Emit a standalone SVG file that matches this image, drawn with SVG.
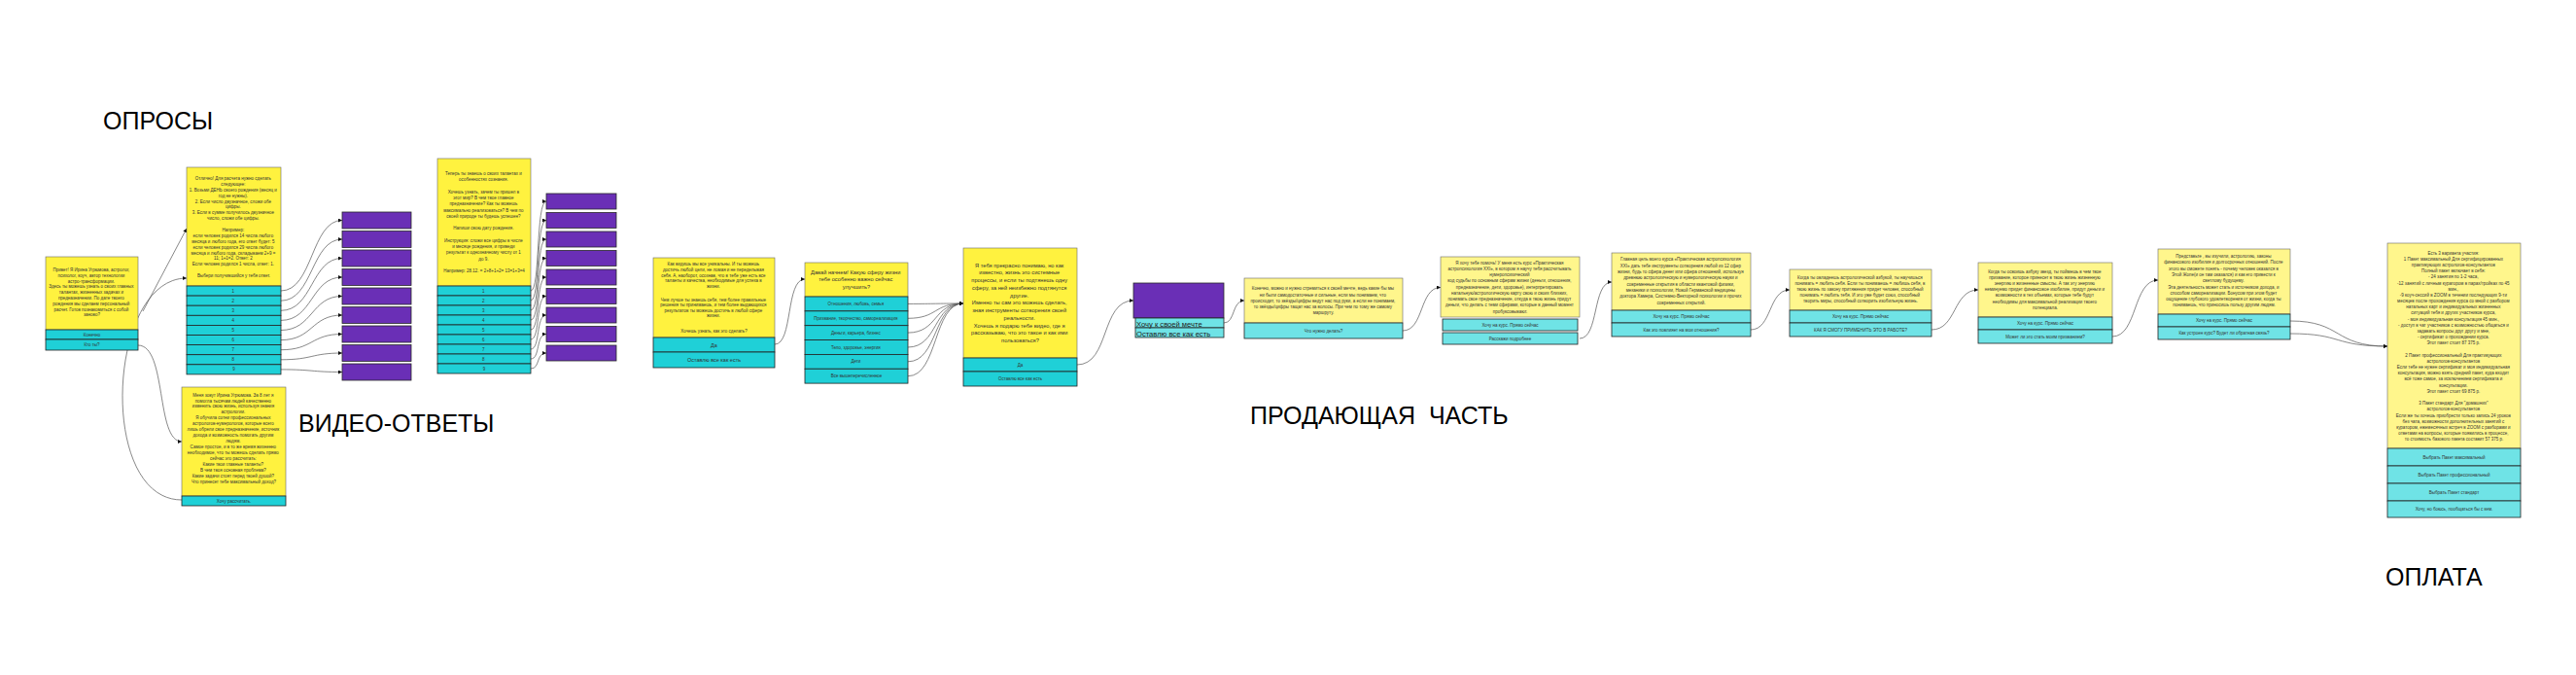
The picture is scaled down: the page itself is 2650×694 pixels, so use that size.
<svg xmlns="http://www.w3.org/2000/svg" width="2650" height="694" viewBox="0 0 2650 694">
<style>
.bg{fill:#ffffff}
.y1{fill:#fff23f;stroke:#6a6a6a;stroke-width:0.6}
.c1{fill:#1fd0d7;stroke:#222;stroke-width:0.8}
.y2{fill:#fff68c;stroke:#6a6a6a;stroke-width:0.6}
.c2{fill:#6fe3e6;stroke:#222;stroke-width:0.8}
.pu{fill:#6a2fb6;stroke:#2a2a2a;stroke-width:0.8}
.t{font-family:"Liberation Sans",Arial,sans-serif;font-size:4.5px;fill:#333;text-anchor:middle}
.t6{font-size:5.7px}
.t5{font-size:5.5px}
.tl{font-family:"Liberation Sans",Arial,sans-serif;font-size:7.6px;fill:#222}
.big{font-family:"Liberation Sans",Arial,sans-serif;font-size:25px;fill:#000}
.e{fill:none;stroke:#555;stroke-width:0.7}
</style>
<defs>
<marker id="ar" viewBox="0 0 6 6" refX="6" refY="3" markerWidth="4" markerHeight="4" markerUnits="userSpaceOnUse" orient="auto">
<path d="M0,0 L6,3 L0,6 Z" fill="#111"/>
</marker>
</defs>
<rect class="bg" x="0" y="0" width="2650" height="694"/>

<g id="labels">
<text class="big" x="106" y="133">ОПРОСЫ</text>
<text class="big" x="307" y="444">ВИДЕО-ОТВЕТЫ</text>
<text class="big" x="1286" y="436" xml:space="preserve">ПРОДАЮЩАЯ  ЧАСТЬ</text>
<text class="big" x="2454" y="602">ОПЛАТА</text>
</g>

<g id="connectors">
<path class="e" marker-end="url(#ar)" d="M147,320 L192,235"/>
<path class="e" marker-end="url(#ar)" d="M187,514 C100,514 110,286 192,286"/>
<path class="e" marker-end="url(#ar)" d="M142,355 C172,355 160,454 187,454"/>
<path class="e" marker-end="url(#ar)" d="M289,299 C322,299 320,226.5 352,226.5"/>
<path class="e" marker-end="url(#ar)" d="M289,309.2 C322,309.2 320,246 352,246"/>
<path class="e" marker-end="url(#ar)" d="M289,319.3 C322,319.3 320,265.5 352,265.5"/>
<path class="e" marker-end="url(#ar)" d="M289,329.4 C322,329.4 320,285 352,285"/>
<path class="e" marker-end="url(#ar)" d="M289,339.5 C322,339.5 320,304.5 352,304.5"/>
<path class="e" marker-end="url(#ar)" d="M289,349.6 C322,349.6 320,324 352,324"/>
<path class="e" marker-end="url(#ar)" d="M289,359.7 C322,359.7 320,343.5 352,343.5"/>
<path class="e" marker-end="url(#ar)" d="M289,369.8 C322,369.8 320,363 352,363"/>
<path class="e" marker-end="url(#ar)" d="M289,379.9 C322,379.9 320,382.5 352,382.5"/>
<path class="e" marker-end="url(#ar)" d="M546,299 C556,299 551,207 562,207"/>
<path class="e" marker-end="url(#ar)" d="M546,309 C556,309 551,226.5 562,226.5"/>
<path class="e" marker-end="url(#ar)" d="M546,319 C556,319 551,246 562,246"/>
<path class="e" marker-end="url(#ar)" d="M546,329 C556,329 551,265.5 562,265.5"/>
<path class="e" marker-end="url(#ar)" d="M546,339 C556,339 551,285 562,285"/>
<path class="e" marker-end="url(#ar)" d="M546,349 C556,349 551,304.5 562,304.5"/>
<path class="e" marker-end="url(#ar)" d="M546,359 C556,359 551,324 562,324"/>
<path class="e" marker-end="url(#ar)" d="M546,369 C556,369 551,343.5 562,343.5"/>
<path class="e" marker-end="url(#ar)" d="M546,379 C556,379 551,363 562,363"/>
<path class="e" marker-end="url(#ar)" d="M797,354 C816,354 808,287 828,287"/>
<path class="e" marker-end="url(#ar)" d="M934,312.4 C965,312.4 960,312 991,312"/>
<path class="e" marker-end="url(#ar)" d="M934,327.3 C965,327.3 960,312 991,312"/>
<path class="e" marker-end="url(#ar)" d="M934,342.1 C965,342.1 960,312 991,312"/>
<path class="e" marker-end="url(#ar)" d="M934,357 C965,357 960,312 991,312"/>
<path class="e" marker-end="url(#ar)" d="M934,371.8 C965,371.8 960,312 991,312"/>
<path class="e" marker-end="url(#ar)" d="M934,386.7 C965,386.7 960,312 991,312"/>
<path class="e" marker-end="url(#ar)" d="M1108,375 C1142,375 1132,309 1166,309"/>
<path class="e" marker-end="url(#ar)" d="M1259,332 C1271,332 1267,309 1280,309"/>
<path class="e" marker-end="url(#ar)" d="M1443,340 C1465,340 1460,295.5 1482,295.5"/>
<path class="e" marker-end="url(#ar)" d="M1625,348 C1645,348 1638,290 1658,290"/>
<path class="e" marker-end="url(#ar)" d="M1801,339 C1823,339 1819,298 1841,298"/>
<path class="e" marker-end="url(#ar)" d="M1987,339 C2013,339 2009,298 2035,298"/>
<path class="e" marker-end="url(#ar)" d="M2173,346 C2199,346 2194,288 2220,288"/>
<path class="e" marker-end="url(#ar)" d="M2356,330 C2410,330 2400,356 2456,356"/>
<path class="e" marker-end="url(#ar)" d="M2356,343 C2410,343 2400,356 2456,356"/>
</g>

<g id="n-start">
<rect class="y1" x="47" y="264" width="95" height="75"/>
<rect class="c1" x="47" y="339" width="95" height="10"/>
<rect class="c1" x="47" y="349" width="95" height="11"/>
<text class="t">
<tspan x="94.5" y="279">Привет! Я Ирина Угрюмова, астролог,</tspan>
<tspan x="94.5" y="284.8">психолог, коуч, автор технологии</tspan>
<tspan x="94.5" y="290.6">астро-трансформации.</tspan>
<tspan x="94.5" y="296.4">Здесь ты можешь узнать о своих главных</tspan>
<tspan x="94.5" y="302.2">талантах, жизненных задачах и</tspan>
<tspan x="94.5" y="308">предназначении. По дате твоего</tspan>
<tspan x="94.5" y="313.8">рождения мы сделаем персональный</tspan>
<tspan x="94.5" y="319.6">расчет. Готов познакомиться с собой</tspan>
<tspan x="94.5" y="325.4">заново?</tspan>
</text>
<text class="t" x="94.5" y="345.6">Конечно</text>
<text class="t" x="94.5" y="356">Кто ты?</text>
</g>

<g id="n-calc">
<rect class="y1" x="192" y="172" width="97" height="122"/>
<rect class="c1" x="192" y="294" width="97" height="10.1"/>
<rect class="c1" x="192" y="304.1" width="97" height="10.1"/>
<rect class="c1" x="192" y="314.2" width="97" height="10.1"/>
<rect class="c1" x="192" y="324.3" width="97" height="10.1"/>
<rect class="c1" x="192" y="334.4" width="97" height="10.1"/>
<rect class="c1" x="192" y="344.5" width="97" height="10.1"/>
<rect class="c1" x="192" y="354.6" width="97" height="10.1"/>
<rect class="c1" x="192" y="364.7" width="97" height="10.1"/>
<rect class="c1" x="192" y="374.8" width="97" height="10.1"/>
<text class="t">
<tspan x="240.5" y="185">Отлично! Для расчета нужно сделать</tspan>
<tspan x="240.5" y="190.9">следующее:</tspan>
<tspan x="240.5" y="196.8">1. Возьми ДЕНЬ своего рождения (месяц и</tspan>
<tspan x="240.5" y="202.6">год не нужны).</tspan>
<tspan x="240.5" y="208.5">2. Если число двузначное, сложи обе</tspan>
<tspan x="240.5" y="214.4">цифры.</tspan>
<tspan x="240.5" y="220.3">3. Если в сумме получилось двузначное</tspan>
<tspan x="240.5" y="226.2">число, сложи обе цифры.</tspan>
<tspan x="240.5" y="238">Например:</tspan>
<tspan x="240.5" y="243.9">если человек родился 14 числа любого</tspan>
<tspan x="240.5" y="249.8">месяца и любого года, его ответ будет: 5</tspan>
<tspan x="240.5" y="255.6">если человек родился 29 числа любого</tspan>
<tspan x="240.5" y="261.5">месяца и любого года, складываем 2+9 =</tspan>
<tspan x="240.5" y="267.4">11; 1+1=2. Ответ: 2</tspan>
<tspan x="240.5" y="273.3">Если человек родился 1 числа, ответ: 1.</tspan>
<tspan x="240.5" y="285">Выбери получившийся у тебя ответ.</tspan>
</text>
<text class="t">
<tspan x="240.5" y="300.6">1</tspan>
<tspan x="240.5" y="310.7">2</tspan>
<tspan x="240.5" y="320.8">3</tspan>
<tspan x="240.5" y="330.9">4</tspan>
<tspan x="240.5" y="341">5</tspan>
<tspan x="240.5" y="351.1">6</tspan>
<tspan x="240.5" y="361.2">7</tspan>
<tspan x="240.5" y="371.3">8</tspan>
<tspan x="240.5" y="381.4">9</tspan>
</text>
</g>

<g id="n-about">
<rect class="y1" x="187" y="398" width="107" height="112"/>
<rect class="c1" x="187" y="510" width="107" height="10"/>
<text class="t">
<tspan x="240.5" y="407.6">Меня зовут Ирина Угрюмова. За 8 лет я</tspan>
<tspan x="240.5" y="413.5">помогла тысячам людей качественно</tspan>
<tspan x="240.5" y="419.4">изменить свою жизнь, используя знания</tspan>
<tspan x="240.5" y="425.4">астрологии.</tspan>
<tspan x="240.5" y="431.3">Я обучила сотни профессиональных</tspan>
<tspan x="240.5" y="437.2">астрологов-нумерологов, которые всего</tspan>
<tspan x="240.5" y="443.2">лишь обрели свое предназначение, источник</tspan>
<tspan x="240.5" y="449.1">дохода и возможность помогать другим</tspan>
<tspan x="240.5" y="455">людям.</tspan>
<tspan x="240.5" y="461">Самое простое, и в то же время жизненно</tspan>
<tspan x="240.5" y="466.9">необходимое, что ты можешь сделать прямо</tspan>
<tspan x="240.5" y="472.8">сейчас это рассчитать:</tspan>
<tspan x="240.5" y="478.8">Какие твои главные таланты?</tspan>
<tspan x="240.5" y="484.7">В чем твоя основная проблема?</tspan>
<tspan x="240.5" y="490.6">Какие задачи стоят перед твоей душой?</tspan>
<tspan x="240.5" y="496.6">Что принесет тебе максимальный доход?</tspan>
</text>
<text class="t" x="240.5" y="516.6">Хочу рассчитать.</text>
</g>

<g id="n-p1-1"><rect class="pu" x="352" y="218" width="71" height="17"/></g>
<g id="n-p1-2"><rect class="pu" x="352" y="237.5" width="71" height="17"/></g>
<g id="n-p1-3"><rect class="pu" x="352" y="257" width="71" height="17"/></g>
<g id="n-p1-4"><rect class="pu" x="352" y="276.5" width="71" height="17"/></g>
<g id="n-p1-5"><rect class="pu" x="352" y="296" width="71" height="17"/></g>
<g id="n-p1-6"><rect class="pu" x="352" y="315.5" width="71" height="17"/></g>
<g id="n-p1-7"><rect class="pu" x="352" y="335" width="71" height="17"/></g>
<g id="n-p1-8"><rect class="pu" x="352" y="354.5" width="71" height="17"/></g>
<g id="n-p1-9"><rect class="pu" x="352" y="374" width="71" height="17"/></g>

<g id="n-video">
<rect class="y1" x="450" y="163" width="96" height="131"/>
<rect class="c1" x="450" y="294" width="96" height="10"/>
<rect class="c1" x="450" y="304" width="96" height="10"/>
<rect class="c1" x="450" y="314" width="96" height="10"/>
<rect class="c1" x="450" y="324" width="96" height="10"/>
<rect class="c1" x="450" y="334" width="96" height="10"/>
<rect class="c1" x="450" y="344" width="96" height="10"/>
<rect class="c1" x="450" y="354" width="96" height="10"/>
<rect class="c1" x="450" y="364" width="96" height="10"/>
<rect class="c1" x="450" y="374" width="96" height="10"/>
<text class="t">
<tspan x="498" y="180">Теперь ты знаешь о своих талантах и</tspan>
<tspan x="498" y="186.2">особенностях сознания.</tspan>
<tspan x="498" y="198.7">Хочешь узнать, зачем ты пришел в</tspan>
<tspan x="498" y="205">этот мир? В чем твое главное</tspan>
<tspan x="498" y="211.2">предназначение? Как ты можешь</tspan>
<tspan x="498" y="217.5">максимально реализоваться? В чем по</tspan>
<tspan x="498" y="223.7">своей природе ты будешь успешен?</tspan>
<tspan x="498" y="236.2">Напиши свою дату рождения.</tspan>
<tspan x="498" y="248.7">Инструкция: сложи все цифры в числе</tspan>
<tspan x="498" y="255">и месяце рождения, и приведи</tspan>
<tspan x="498" y="261.2">результат к однозначному числу от 1</tspan>
<tspan x="498" y="267.5">до 9.</tspan>
<tspan x="498" y="280">Например: 28.12. = 2+8+1+2= 13=1+3=4</tspan>
</text>
<text class="t">
<tspan x="498" y="300.6">1</tspan>
<tspan x="498" y="310.6">2</tspan>
<tspan x="498" y="320.6">3</tspan>
<tspan x="498" y="330.6">4</tspan>
<tspan x="498" y="340.6">5</tspan>
<tspan x="498" y="350.6">6</tspan>
<tspan x="498" y="360.6">7</tspan>
<tspan x="498" y="370.6">8</tspan>
<tspan x="498" y="380.6">9</tspan>
</text>
</g>

<g id="n-p2-1"><rect class="pu" x="562" y="199" width="72" height="16"/></g>
<g id="n-p2-2"><rect class="pu" x="562" y="218.5" width="72" height="16"/></g>
<g id="n-p2-3"><rect class="pu" x="562" y="238" width="72" height="16"/></g>
<g id="n-p2-4"><rect class="pu" x="562" y="257.5" width="72" height="16"/></g>
<g id="n-p2-5"><rect class="pu" x="562" y="277" width="72" height="16"/></g>
<g id="n-p2-6"><rect class="pu" x="562" y="296.5" width="72" height="16"/></g>
<g id="n-p2-7"><rect class="pu" x="562" y="316" width="72" height="16"/></g>
<g id="n-p2-8"><rect class="pu" x="562" y="335.5" width="72" height="16"/></g>
<g id="n-p2-9"><rect class="pu" x="562" y="355" width="72" height="16"/></g>

<g id="n-unique">
<rect class="y1" x="672" y="265" width="125" height="82"/>
<rect class="c1" x="672" y="347" width="125" height="15"/>
<rect class="c1" x="672" y="362" width="125" height="16"/>
<text class="t">
<tspan x="734.5" y="273.3">Как видишь мы все уникальны. И ты можешь</tspan>
<tspan x="734.5" y="279">достичь любой цели, не ломая и не переделывая</tspan>
<tspan x="734.5" y="284.6">себя. А, наоборот, осознав, что в тебе уже есть все</tspan>
<tspan x="734.5" y="290.2">таланты и качества, необходимые для успеха в</tspan>
<tspan x="734.5" y="295.8">жизни.</tspan>
<tspan x="734.5" y="309.6">Чем лучше ты знаешь себя, тем более правильные</tspan>
<tspan x="734.5" y="315.2">решения ты принимаешь, и тем более выдающихся</tspan>
<tspan x="734.5" y="320.8">результатов ты можешь достичь в любой сфере</tspan>
<tspan x="734.5" y="326.4">жизни.</tspan>
<tspan x="734.5" y="342">Хочешь узнать, как это сделать?</tspan>
</text>
<text class="t t5" x="734.5" y="356.5">Да</text>
<text class="t t5" x="734.5" y="372">Оставлю все как есть</text>
</g>

<g id="n-sphere">
<rect class="y1" x="828" y="270" width="106" height="35"/>
<rect class="c1" x="828" y="305" width="106" height="14.85"/>
<rect class="c1" x="828" y="319.85" width="106" height="14.85"/>
<rect class="c1" x="828" y="334.7" width="106" height="14.85"/>
<rect class="c1" x="828" y="349.55" width="106" height="14.85"/>
<rect class="c1" x="828" y="364.4" width="106" height="14.85"/>
<rect class="c1" x="828" y="379.25" width="106" height="14.85"/>
<text class="t t6">
<tspan x="881" y="282.2">Давай начнем! Какую сферу жизни</tspan>
<tspan x="881" y="289.4">тебе особенно важно сейчас</tspan>
<tspan x="881" y="296.6">улучшить?</tspan>
</text>
<text class="t">
<tspan x="881" y="314">Отношения, любовь, семья</tspan>
<tspan x="881" y="328.9">Призвание, творчество, самореализация</tspan>
<tspan x="881" y="343.7">Деньги, карьера, бизнес</tspan>
<tspan x="881" y="358.6">Тело, здоровье, энергия</tspan>
<tspan x="881" y="373.4">Дети</tspan>
<tspan x="881" y="388.3">Все вышеперечисленное</tspan>
</text>
</g>

<g id="n-understand">
<rect class="y1" x="991" y="255" width="117" height="113"/>
<rect class="c1" x="991" y="368" width="117" height="14"/>
<rect class="c1" x="991" y="382" width="117" height="15"/>
<text class="t t6">
<tspan x="1049.5" y="274.7">Я тебя прекрасно понимаю, но как</tspan>
<tspan x="1049.5" y="282.4">известно, жизнь это системные</tspan>
<tspan x="1049.5" y="290.2">процессы, и если ты подтянешь одну</tspan>
<tspan x="1049.5" y="297.9">сферу, за ней неизбежно подтянутся</tspan>
<tspan x="1049.5" y="305.6">другие.</tspan>
<tspan x="1049.5" y="313.4">Именно ты сам это можешь сделать,</tspan>
<tspan x="1049.5" y="321.1">зная инструменты сотворения своей</tspan>
<tspan x="1049.5" y="328.8">реальности.</tspan>
<tspan x="1049.5" y="336.5">Хочешь я подарю тебе видео, где я</tspan>
<tspan x="1049.5" y="344.3">рассказываю, что это такое и как ими</tspan>
<tspan x="1049.5" y="352">пользоваться?</tspan>
</text>
<text class="t" x="1049.5" y="376.6">Да</text>
<text class="t" x="1049.5" y="391.1">Оставлю все как есть</text>
</g>

<g id="n-dream">
<rect class="pu" x="1166" y="291" width="93" height="36"/>
<rect class="c2" x="1168" y="327" width="91" height="10"/>
<rect class="c2" x="1168" y="337" width="91" height="10"/>
<text class="tl" x="1169" y="335.5">Хочу к своей мечте</text>
<text class="tl" x="1169" y="345.5">Оставлю все как есть</text>
</g>

<g id="n-of-course">
<rect class="y2" x="1280" y="286" width="163" height="46"/>
<rect class="c2" x="1280" y="332" width="163" height="16"/>
<text class="t">
<tspan x="1361.5" y="298.3">Конечно, можно и нужно стремиться к своей мечте, ведь какие бы мы</tspan>
<tspan x="1361.5" y="304.5">ни были самодостаточные и сильные, если мы понимаем, что</tspan>
<tspan x="1361.5" y="310.8">происходит, то звёзды/цифры ведут нас под руки, а если не понимаем,</tspan>
<tspan x="1361.5" y="317">то звёзды/цифры тащат нас за волосы. При чем по тому же самому</tspan>
<tspan x="1361.5" y="323.3">маршруту.</tspan>
</text>
<text class="t" x="1361.5" y="341.6">Что нужно делать?</text>
</g>

<g id="n-help">
<rect class="y2" x="1482" y="264" width="143" height="62"/>
<rect class="c2" x="1484" y="328" width="139" height="12"/>
<rect class="c2" x="1484" y="342" width="139" height="12"/>
<text class="t">
<tspan x="1553.5" y="271.6">Я хочу тебе помочь! У меня есть курс «Практическая</tspan>
<tspan x="1553.5" y="277.9">астропсихология XXI», в котором я научу тебя рассчитывать</tspan>
<tspan x="1553.5" y="284.1">нумеропсихический</tspan>
<tspan x="1553.5" y="290.4">код судьбы по основным сферам жизни (деньги, отношения,</tspan>
<tspan x="1553.5" y="296.6">предназначение, дети, здоровье), интерпретировать</tspan>
<tspan x="1553.5" y="302.9">натальную/астрологическую карту свою и своих близких,</tspan>
<tspan x="1553.5" y="309.1">понимать свое предназначение, откуда в твою жизнь придут</tspan>
<tspan x="1553.5" y="315.4">деньги, что делать с теми сферами, которые в данный момент</tspan>
<tspan x="1553.5" y="321.6">пробуксовывают.</tspan>
</text>
<text class="t" x="1553.5" y="335.6">Хочу на курс. Прямо сейчас</text>
<text class="t" x="1553.5" y="349.6">Расскажи подробнее</text>
</g>

<g id="n-goal">
<rect class="y2" x="1658" y="260" width="143" height="59"/>
<rect class="c2" x="1658" y="319" width="143" height="13"/>
<rect class="c2" x="1658" y="332" width="143" height="14"/>
<text class="t">
<tspan x="1729.5" y="268.3">Главная цель моего курса «Практическая астропсихология</tspan>
<tspan x="1729.5" y="274.6">XXI» дать тебе инструменты сотворения любой из 12 сфер</tspan>
<tspan x="1729.5" y="281">жизни, будь то сфера денег или сфера отношений, используя</tspan>
<tspan x="1729.5" y="287.3">древнюю астрологическую и нумерологическую науки и</tspan>
<tspan x="1729.5" y="293.6">современные открытия в области квантовой физики,</tspan>
<tspan x="1729.5" y="300">механики и психологии, Новой Германской медицины</tspan>
<tspan x="1729.5" y="306.3">доктора Хамера, Системно-Векторной психологии и прочих</tspan>
<tspan x="1729.5" y="312.6">современных открытий.</tspan>
</text>
<text class="t" x="1729.5" y="327.1">Хочу на курс. Прямо сейчас</text>
<text class="t" x="1729.5" y="340.6">Как это повлияет на мои отношения?</text>
</g>

<g id="n-relations">
<rect class="y2" x="1841" y="277" width="146" height="42"/>
<rect class="c2" x="1841" y="319" width="146" height="13"/>
<rect class="c2" x="1841" y="332" width="146" height="14"/>
<text class="t">
<tspan x="1914" y="287.3">Когда ты овладеешь астрологической азбукой, ты научишься</tspan>
<tspan x="1914" y="293.3">понимать = любить себя. Если ты понимаешь = любишь себя, в</tspan>
<tspan x="1914" y="299.3">твою жизнь по закону притяжения придет человек, способный</tspan>
<tspan x="1914" y="305.3">понимать = любить тебя. И это уже будет союз, способный</tspan>
<tspan x="1914" y="311.3">творить миры, способный сотворить изобильную жизнь.</tspan>
</text>
<text class="t" x="1914" y="327.1">Хочу на курс. Прямо сейчас</text>
<text class="t" x="1914" y="340.6">КАК Я СМОГУ ПРИМЕНИТЬ ЭТО В РАБОТЕ?</text>
</g>

<g id="n-calling">
<rect class="y2" x="2035" y="270" width="138" height="56"/>
<rect class="c2" x="2035" y="326" width="138" height="13"/>
<rect class="c2" x="2035" y="339" width="138" height="14"/>
<text class="t">
<tspan x="2104" y="281">Когда ты освоишь азбуку звезд, ты поймешь в чем твое</tspan>
<tspan x="2104" y="287.1">призвание, которое принесет в твою жизнь жизненную</tspan>
<tspan x="2104" y="293.2">энергию и жизненные смыслы. А так эту энергию</tspan>
<tspan x="2104" y="299.3">неминуемо придет финансовое изобилие, придут деньги и</tspan>
<tspan x="2104" y="305.4">возможности в тех объемах, которые тебе будут</tspan>
<tspan x="2104" y="311.5">необходимы для максимальной реализации твоего</tspan>
<tspan x="2104" y="317.6">потенциала.</tspan>
</text>
<text class="t" x="2104" y="334.1">Хочу на курс. Прямо сейчас</text>
<text class="t" x="2104" y="347.6">Может ли это стать моим призванием?</text>
</g>

<g id="n-imagine">
<rect class="y2" x="2220" y="256" width="136" height="67"/>
<rect class="c2" x="2220" y="323" width="136" height="13"/>
<rect class="c2" x="2220" y="336" width="136" height="13"/>
<text class="t">
<tspan x="2288" y="265">Представьте , вы изучили, астрологию, законы</tspan>
<tspan x="2288" y="271.3">финансового изобилия и долгосрочных отношений. После</tspan>
<tspan x="2288" y="277.6">этого вы сможете понять - почему человек оказался в</tspan>
<tspan x="2288" y="283.9">Этой Жопе(и он там оказался) и как его привести к</tspan>
<tspan x="2288" y="290.2">светлому будущему.</tspan>
<tspan x="2288" y="296.5">Эта деятельность может стать и источником дохода, и</tspan>
<tspan x="2288" y="302.8">способом самореализации. Бонусом при этом будет</tspan>
<tspan x="2288" y="309.1">ощущение глубокого удовлетворения от жизни, когда ты</tspan>
<tspan x="2288" y="315.4">понимаешь, что приносишь пользу другим людям.</tspan>
</text>
<text class="t" x="2288" y="331.1">Хочу на курс. Прямо сейчас</text>
<text class="t" x="2288" y="344.1">Как устроен курс? Будет ли обратная связь?</text>
</g>

<g id="n-payment">
<rect class="y2" x="2456" y="250" width="137" height="211"/>
<rect class="c2" x="2456" y="461" width="137" height="18"/>
<rect class="c2" x="2456" y="479" width="137" height="18"/>
<rect class="c2" x="2456" y="497" width="137" height="18"/>
<rect class="c2" x="2456" y="515" width="137" height="17"/>
<text class="t">
<tspan x="2524.5" y="261.6">Есть 3 варианта участия:</tspan>
<tspan x="2524.5" y="267.8">1 Пакет максимальный Для сертифицированных</tspan>
<tspan x="2524.5" y="274">практикующих астрологов-консультантов</tspan>
<tspan x="2524.5" y="280.1">Полный пакет включает в себя:</tspan>
<tspan x="2524.5" y="286.3">- 24 занятия по 1-2 часа,</tspan>
<tspan x="2524.5" y="292.5">-12 занятий с личным куратором в парах/тройках по 45</tspan>
<tspan x="2524.5" y="298.7">мин.,</tspan>
<tspan x="2524.5" y="304.9">-9 коуч-сессий в ZOOM в течении последующих 9-ти</tspan>
<tspan x="2524.5" y="311">месяцев после прохождения курса со мной с разбором</tspan>
<tspan x="2524.5" y="317.2">натальных карт и индивидуальных жизненных</tspan>
<tspan x="2524.5" y="323.4">ситуаций тебя и других участников курса,</tspan>
<tspan x="2524.5" y="329.6">- моя индивидуальная консультация 45 мин.,</tspan>
<tspan x="2524.5" y="335.8">- доступ в чат участников с возможностью общаться и</tspan>
<tspan x="2524.5" y="341.9">задавать вопросы друг другу и мне,</tspan>
<tspan x="2524.5" y="348.1">- сертификат о прохождении курса.</tspan>
<tspan x="2524.5" y="354.3">Этот пакет стоит 87 375 р.</tspan>
<tspan x="2524.5" y="366.7">2 Пакет профессиональный Для практикующих</tspan>
<tspan x="2524.5" y="372.8">астрологов-консультантов</tspan>
<tspan x="2524.5" y="379">Если тебе не нужен сертификат и моя индивидуальная</tspan>
<tspan x="2524.5" y="385.2">консультация, можно взять средний пакет, куда входит</tspan>
<tspan x="2524.5" y="391.4">всё тоже самое, за исключением сертификата и</tspan>
<tspan x="2524.5" y="397.6">консультации.</tspan>
<tspan x="2524.5" y="403.7">Этот пакет стоит 69 875 р.</tspan>
<tspan x="2524.5" y="416.1">3 Пакет стандарт Для "домашних"</tspan>
<tspan x="2524.5" y="422.3">астрологов-консультантов</tspan>
<tspan x="2524.5" y="428.5">Если же ты хочешь приобрести только запись 24 уроков</tspan>
<tspan x="2524.5" y="434.6">без чата, возможности дополнительных занятий с</tspan>
<tspan x="2524.5" y="440.8">куратором, ежемесячных встреч в ZOOM с разборами и</tspan>
<tspan x="2524.5" y="447">ответами на вопросы, которые появились в процессе,</tspan>
<tspan x="2524.5" y="453.2">то стоимость базового пакета составит 57 375 р.</tspan>
</text>
<text class="t" x="2524.5" y="471.6">Выбрать Пакет максимальный</text>
<text class="t" x="2524.5" y="489.6">Выбрать Пакет профессиональный</text>
<text class="t" x="2524.5" y="507.6">Выбрать Пакет стандарт</text>
<text class="t" x="2524.5" y="525.1">Хочу, но боюсь, пообщаться бы с кем.</text>
</g>
</svg>
